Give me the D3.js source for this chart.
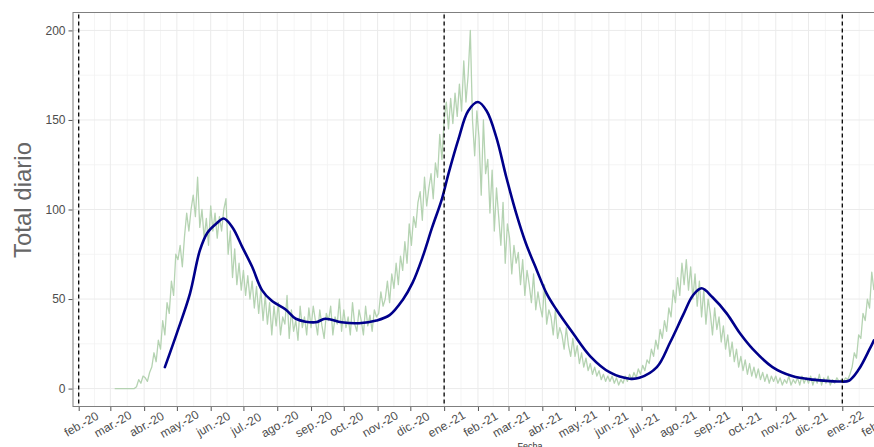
<!DOCTYPE html>
<html><head><meta charset="utf-8">
<script src="https://cdn.jsdelivr.net/npm/d3@7"></script>
<style>
body{margin:0;background:#fff;}
svg{display:block;font-family:"Liberation Sans",Arial,sans-serif;}
</style>
</head><body>
<svg id="c" width="874" height="447"></svg>
<script>
// ---------- data ----------
const yTicks = [0, 50, 100, 150, 200];
const yMinorTicks = [25, 75, 125, 175];
const monthAbbr = ["ene.","feb.","mar.","abr.","may.","jun.","jul.","ago.","sep.","oct.","nov.","dic."];
const yearMarkers = ["2020-02-01", "2021-01-01", "2022-01-01"];

// daily totals, sampled every 2 days starting 2020-03-05
const dailyStart = "2020-03-05";
const dailyStepDays = 2;
const dailyTotal = [
  // mar-20
  0,0,0,0,0,0,0,0,0,0,1,5,3,7,
  // abr-20
  6,4,9,12,20,15,27,22,38,30,48,42,60,52,75,
  // may-20
  72,80,68,85,98,88,100,108,96,118,90,100,84,95,80,
  // jun-20
  102,88,98,84,96,88,100,106,75,88,62,78,58,70,55,
  // jul-20
  66,52,63,50,60,45,57,42,55,38,52,36,48,30,46,35,
  // ago-20
  48,30,40,36,52,28,44,32,38,27,46,34,40,30,45,
  // sep-20
  34,46,38,30,44,35,28,42,38,46,30,40,36,50,32,
  // oct-20
  44,34,40,30,48,36,32,44,38,30,46,35,41,32,44,40,
  // nov-20
  42,54,46,50,60,48,64,56,70,58,74,66,82,70,92,
  // dic-20
  80,96,90,104,110,94,118,102,112,120,106,126,118,142,128,
  // ene-21
  150,160,145,162,148,165,152,170,155,183,160,175,200,150,130,155,
  // feb-21
  140,108,150,120,128,98,122,88,112,96,80,104,70,92,
  // mar-21
  84,64,80,70,76,58,72,52,66,58,48,64,44,54,46,
  // abr-21
  40,58,36,44,40,30,44,28,34,30,22,34,24,18,28,
  // may-21
  18,24,14,20,12,17,10,14,8,12,7,10,5,8,4,7,
  // jun-21
  4,7,3,6,2,5,3,7,4,8,5,9,6,11,8,
  // jul-21
  13,10,16,14,22,18,27,22,33,28,38,32,45,40,55,
  // ago-21
  48,62,52,70,58,72,55,68,50,64,46,60,40,55,36,50,
  // sep-21
  42,30,45,33,40,26,35,22,30,18,26,15,22,12,18,
  // oct-21
  10,16,8,14,7,12,6,11,5,9,4,8,3,7,4,
  // nov-21
  7,3,6,2,5,3,7,2,5,3,6,2,7,3,6,
  // dic-21
  3,7,2,6,3,8,2,6,3,7,2,5,3,6,4,5,
  // ene-22
  4,6,5,8,12,20,17,30,28,42,38,50,45,65,55
];

// smoothed (moving average) line
const smoothDates = [
  "2020-04-20","2020-05-01","2020-05-13","2020-05-22","2020-05-29","2020-06-06","2020-06-13",
  "2020-06-21","2020-06-30","2020-07-09","2020-07-18","2020-07-27","2020-08-09","2020-08-18",
  "2020-09-05","2020-09-14","2020-09-29","2020-10-15","2020-10-31","2020-11-12","2020-11-24",
  "2020-12-03","2020-12-12","2020-12-21","2020-12-30","2021-01-05","2021-01-14","2021-01-23",
  "2021-02-01","2021-02-09","2021-02-18","2021-02-27","2021-03-08","2021-03-17","2021-03-27",
  "2021-04-05","2021-04-14","2021-04-29","2021-05-15","2021-06-02","2021-06-20","2021-06-29",
  "2021-07-15","2021-07-27","2021-08-08","2021-08-17","2021-08-25","2021-09-04","2021-09-17",
  "2021-09-29","2021-10-11","2021-10-29","2021-11-16","2021-12-05","2021-12-29","2022-01-07",
  "2022-01-16","2022-01-26","2022-01-30"
];
const smoothValues = [
  12,31,53,77,87,92,95,
  90,79,68,55,49,44,39,
  37,39,37,36.5,38,41,49.5,
  59,73,90,106,120,139,155,
  160,155,140,118,98,81,66,
  53,44,31,18,9,5.5,6,
  12,25.6,41,52,56,51,42,
  31,22,12,7,5,4,4.4,
  10.6,22,27
];

// ---------- layout ----------
const panel = {left: 73, right: 988, top: 12.5, bottom: 406.5};
const svg = d3.select("#c");
const parse = d3.utcParse("%Y-%m-%d");

const x = d3.scaleUtc()
  .domain([Date.UTC(2020,1,1), Date.UTC(2022,0,1)])
  .range([78.7, 842.3]);
const y = d3.scaleLinear().domain([-10, 210]).range([panel.bottom, panel.top]);

const months = d3.utcMonth.range(new Date(Date.UTC(2020,1,1)), new Date(Date.UTC(2022,5,1)));
const minorMonths = [];
for (let i = 0; i < months.length - 1; i++) {
  minorMonths.push(new Date((months[i].getTime() + months[i+1].getTime()) / 2));
}

svg.append("defs").append("clipPath").attr("id","clip")
  .append("rect").attr("x", panel.left).attr("y", panel.top)
  .attr("width", panel.right - panel.left).attr("height", panel.bottom - panel.top);

const grid = svg.append("g");
grid.selectAll(".vmin").data(minorMonths).join("line")
  .attr("x1", d => x(d)).attr("x2", d => x(d))
  .attr("y1", panel.top).attr("y2", panel.bottom)
  .attr("stroke", "#f2f2f2").attr("stroke-width", 0.8);
grid.selectAll(".hmin").data(yMinorTicks).join("line")
  .attr("x1", panel.left).attr("x2", panel.right)
  .attr("y1", d => y(d)).attr("y2", d => y(d))
  .attr("stroke", "#f2f2f2").attr("stroke-width", 0.8);
grid.selectAll(".vmaj").data(months).join("line")
  .attr("x1", d => x(d)).attr("x2", d => x(d))
  .attr("y1", panel.top).attr("y2", panel.bottom)
  .attr("stroke", "#ebebeb").attr("stroke-width", 1);
grid.selectAll(".hmaj").data(yTicks).join("line")
  .attr("x1", panel.left).attr("x2", panel.right)
  .attr("y1", d => y(d)).attr("y2", d => y(d))
  .attr("stroke", "#ebebeb").attr("stroke-width", 1);

// data lines
const start = parse(dailyStart);
const daily = dailyTotal.map((v, i) => ({date: d3.utcDay.offset(start, i * dailyStepDays), value: v}));
const smooth = smoothDates.map((d, i) => ({date: parse(d), value: smoothValues[i]}));

const plot = svg.append("g").attr("clip-path", "url(#clip)");
plot.append("path").datum(daily)
  .attr("fill", "none").attr("stroke", "#b5d3b2").attr("stroke-width", 1.3)
  .attr("stroke-linejoin", "round")
  .attr("d", d3.line().x(d => x(d.date)).y(d => y(d.value)));
plot.append("path").datum(smooth)
  .attr("fill", "none").attr("stroke", "#00008b").attr("stroke-width", 2.6)
  .attr("stroke-linejoin", "round").attr("stroke-linecap", "round")
  .attr("d", d3.line().curve(d3.curveCatmullRom.alpha(0.5)).x(d => x(d.date)).y(d => y(d.value)));

// dashed year markers
plot.selectAll(".vl").data(yearMarkers.map(parse)).join("line")
  .attr("x1", d => x(d)).attr("x2", d => x(d))
  .attr("y1", panel.top + 2).attr("y2", panel.bottom)
  .attr("stroke", "#000").attr("stroke-width", 1.3).attr("stroke-dasharray", "4,3");

// panel border
svg.append("rect").attr("x", panel.left).attr("y", panel.top)
  .attr("width", panel.right - panel.left).attr("height", panel.bottom - panel.top)
  .attr("fill", "none").attr("stroke", "#7f7f7f").attr("stroke-width", 1);

// axes
const yAxis = svg.append("g").attr("transform", `translate(${panel.left - 0.5},0)`)
  .call(d3.axisLeft(y).tickValues(yTicks).tickSize(4).tickPadding(3));
yAxis.select(".domain").remove();
yAxis.selectAll("line").attr("stroke", "#555");
yAxis.selectAll("text").attr("fill", "#4d4d4d").style("font-size", "12px")
  .style("font-family", '"Liberation Sans",Arial,sans-serif');

const xAxis = svg.append("g").attr("transform", `translate(0,${panel.bottom + 0.5})`)
  .call(d3.axisBottom(x).tickValues(months).tickSize(4)
    .tickFormat(d => monthAbbr[d.getUTCMonth()] + "-" + String(d.getUTCFullYear()).slice(2)));
xAxis.select(".domain").remove();
xAxis.selectAll("line").attr("stroke", "#555");
xAxis.selectAll("text")
  .attr("y", 0).attr("dy", "0.35em")
  .attr("text-anchor", "middle")
  .attr("transform", "translate(2,17) rotate(-30)")
  .attr("fill", "#4d4d4d").style("font-size", "12px")
  .style("font-family", '"Liberation Sans",Arial,sans-serif');

// titles
svg.append("text")
  .attr("transform", "translate(31,200) rotate(-90)")
  .attr("text-anchor", "middle")
  .attr("fill", "#666").style("font-size", "24px")
  .text("Total diario");
svg.append("text")
  .attr("x", 530).attr("y", 448.5)
  .attr("text-anchor", "middle")
  .attr("fill", "#333").style("font-size", "9px")
  .text("Fecha");
</script>
</body></html>
